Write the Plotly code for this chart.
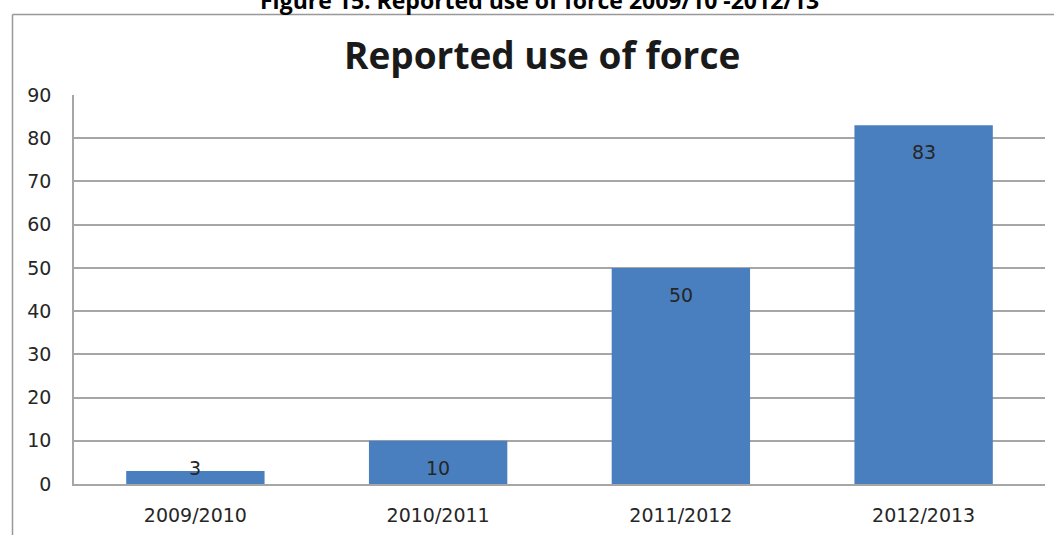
import plotly.graph_objects as go

categories = ["2009/2010", "2010/2011", "2011/2012", "2012/2013"]
values = [3, 10, 50, 83]
y_ticks = [0, 10, 20, 30, 40, 50, 60, 70, 80, 90]

W, H = 1054, 535
L, R, T, B = 74, 9, 95, 51
plot_w = W - L - R
plot_h = H - T - B

BAR = "#4A7FBF"
GRID = "#A6A6A6"
FONT = "DejaVu Sans"
TXT = "#262626"

fig = go.Figure()
fig.add_trace(go.Bar(
    x=categories, y=values, marker=dict(color=BAR, line=dict(width=0)),
    hoverinfo="skip",
))


def px_x(p):
    return (p - L) / plot_w


def px_y(p):
    return (H - B - p) / plot_h


annotations = []
for c, v in zip(categories, values):
    if v >= 10:
        annotations.append(dict(x=c, y=v, xref="x", yref="y", text=str(v), showarrow=False,
                                yanchor="top", yshift=-14,
                                font=dict(family=FONT, size=19, color=TXT)))
    else:
        annotations.append(dict(x=c, y=v, xref="x", yref="y", text=str(v), showarrow=False,
                                yanchor="bottom", yshift=-10,
                                font=dict(family=FONT, size=19, color=TXT)))

annotations.append(dict(x=px_x(542), y=1, xref="paper", yref="paper",
                        xanchor="center", yanchor="middle", yshift=T - 54,
                        text="<b>Reported use of force</b>", showarrow=False,
                        font=dict(family="Open Sans", size=37, color="#1a1a1a")))
annotations.append(dict(x=px_x(539), y=1, xref="paper", yref="paper",
                        xanchor="center", yanchor="middle", yshift=T,
                        text="<b>Figure 15: Reported use of force 2009/10 -2012/13</b>", showarrow=False,
                        font=dict(family="Open Sans", size=23, color="#000000")))

shapes = [
    dict(type="line", xref="paper", yref="paper", x0=px_x(12.5), x1=px_x(12.5), y0=px_y(14.5), y1=px_y(H + 5),
         line=dict(color="#999999", width=1.5)),
    dict(type="line", xref="paper", yref="paper", x0=px_x(12.5), x1=px_x(W + 5), y0=px_y(14.5), y1=px_y(14.5),
         line=dict(color="#999999", width=1.5)),
]

fig.update_layout(
    width=W, height=H,
    margin=dict(l=L, r=R, t=T, b=B, autoexpand=False),
    paper_bgcolor="white", plot_bgcolor="white",
    showlegend=False,
    bargap=0.43,
    annotations=annotations,
    shapes=shapes,
    font=dict(family=FONT, size=19, color=TXT),
)
fig.update_xaxes(
    showgrid=False, showline=True, linecolor=GRID, linewidth=1.5,
    ticks="", tickfont=dict(family=FONT, size=19, color=TXT),
    ticklabelstandoff=13,
)
fig.update_yaxes(
    range=[0, 90], tickvals=y_ticks, showgrid=True, gridcolor=GRID, gridwidth=1.5,
    showline=True, linecolor=GRID, linewidth=1.5, zeroline=False, ticks="",
    tickfont=dict(family=FONT, size=19, color=TXT),
    ticklabelstandoff=17,
)

fig.write_html("out.html", config={"displayModeBar": False},
               post_script="document.body.style.margin='0';document.body.style.padding='0';")
